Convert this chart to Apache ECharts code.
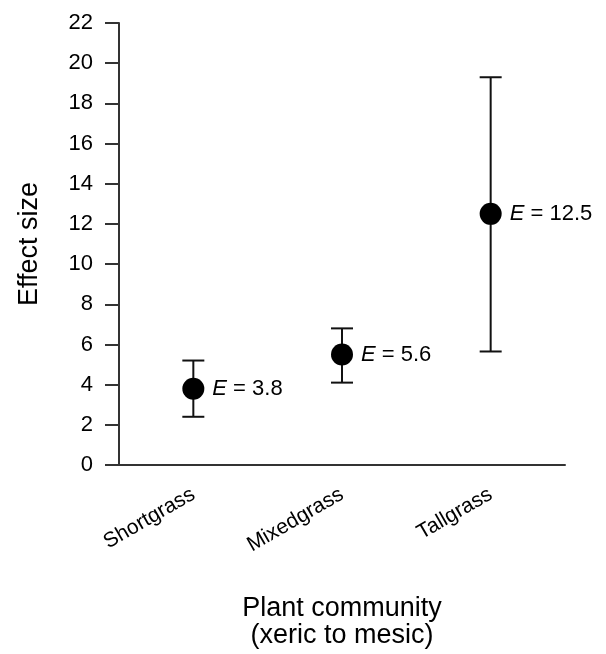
<!DOCTYPE html>
<html>
<head>
<meta charset="utf-8">
<script src="https://cdn.jsdelivr.net/npm/echarts@6/dist/echarts.min.js"></script>
<style>
html,body{margin:0;padding:0;background:#fff;}
#chart{width:606px;height:654px;}
</style>
</head>
<body>
<div id="chart"></div>
<script>
var categories = ['Shortgrass', 'Mixedgrass', 'Tallgrass'];
var means = [3.8, 5.5, 12.5];
var lowers = [2.4, 4.1, 5.65];
var uppers = [5.2, 6.8, 19.3];
var labelValues = ['3.8', '5.6', '12.5'];
var yTicks = [0, 2, 4, 6, 8, 10, 12, 14, 16, 18, 20, 22];

var FONT = '"Liberation Sans", Arial, Helvetica, sans-serif';
var chart = echarts.init(document.getElementById('chart'));

var errData = categories.map(function (c, i) { return [i, lowers[i], uppers[i]]; });
var ptData = categories.map(function (c, i) { return [i, means[i]]; });

chart.setOption({
  animation: false,
  backgroundColor: '#fff',
  grid: { left: 119, right: 41, top: 23, bottom: 183, containLabel: false },
  xAxis: {
    type: 'category',
    data: categories,
    boundaryGap: true,
    name: 'Plant community\n(xeric to mesic)',
    nameLocation: 'middle',
    nameGap: 130,
    nameTextStyle: { fontFamily: FONT, fontSize: 27, color: '#000', lineHeight: 27 },
    axisLine: { lineStyle: { color: '#333', width: 2 } },
    axisTick: { alignWithLabel: true, length: 10, lineStyle: { color: '#333', width: 2 } },
    axisLabel: { rotate: 30, margin: 28, fontFamily: FONT, fontSize: 21, color: '#000', interval: 0 },
    splitLine: { show: false }
  },
  yAxis: {
    type: 'value',
    min: yTicks[0],
    max: yTicks[yTicks.length - 1],
    interval: 2,
    name: 'Effect size',
    nameLocation: 'middle',
    nameGap: 76,
    nameTextStyle: { fontFamily: FONT, fontSize: 27, color: '#000' },
    axisLine: { show: true, lineStyle: { color: '#333', width: 2 } },
    axisTick: { show: true, length: 14, lineStyle: { color: '#333', width: 2 } },
    axisLabel: { margin: 26, fontFamily: FONT, fontSize: 22, color: '#000' },
    splitLine: { show: false }
  },
  series: [
    {
      type: 'custom',
      data: errData,
      z: 2,
      renderItem: function (params, api) {
        var x = api.value(0);
        var lo = api.coord([x, api.value(1)]);
        var hi = api.coord([x, api.value(2)]);
        var hw = 11;
        var style = { stroke: '#111', lineWidth: 2 };
        return {
          type: 'group',
          children: [
            { type: 'line', shape: { x1: lo[0], y1: lo[1], x2: hi[0], y2: hi[1] }, style: style },
            { type: 'line', shape: { x1: lo[0] - hw, y1: lo[1], x2: lo[0] + hw, y2: lo[1] }, style: style },
            { type: 'line', shape: { x1: hi[0] - hw, y1: hi[1], x2: hi[0] + hw, y2: hi[1] }, style: style }
          ]
        };
      }
    },
    {
      type: 'scatter',
      data: ptData,
      z: 3,
      symbol: 'circle',
      symbolSize: 22,
      itemStyle: { color: '#000', opacity: 1 },
      label: {
        show: true,
        position: 'right',
        distance: 8,
        color: '#000',
        formatter: function (p) { return '{i|E}{n| = ' + labelValues[p.dataIndex] + '}'; },
        rich: {
          i: { fontFamily: FONT, fontSize: 22, fontStyle: 'italic', color: '#000' },
          n: { fontFamily: FONT, fontSize: 22, color: '#000' }
        }
      }
    }
  ]
});
</script>
</body>
</html>
